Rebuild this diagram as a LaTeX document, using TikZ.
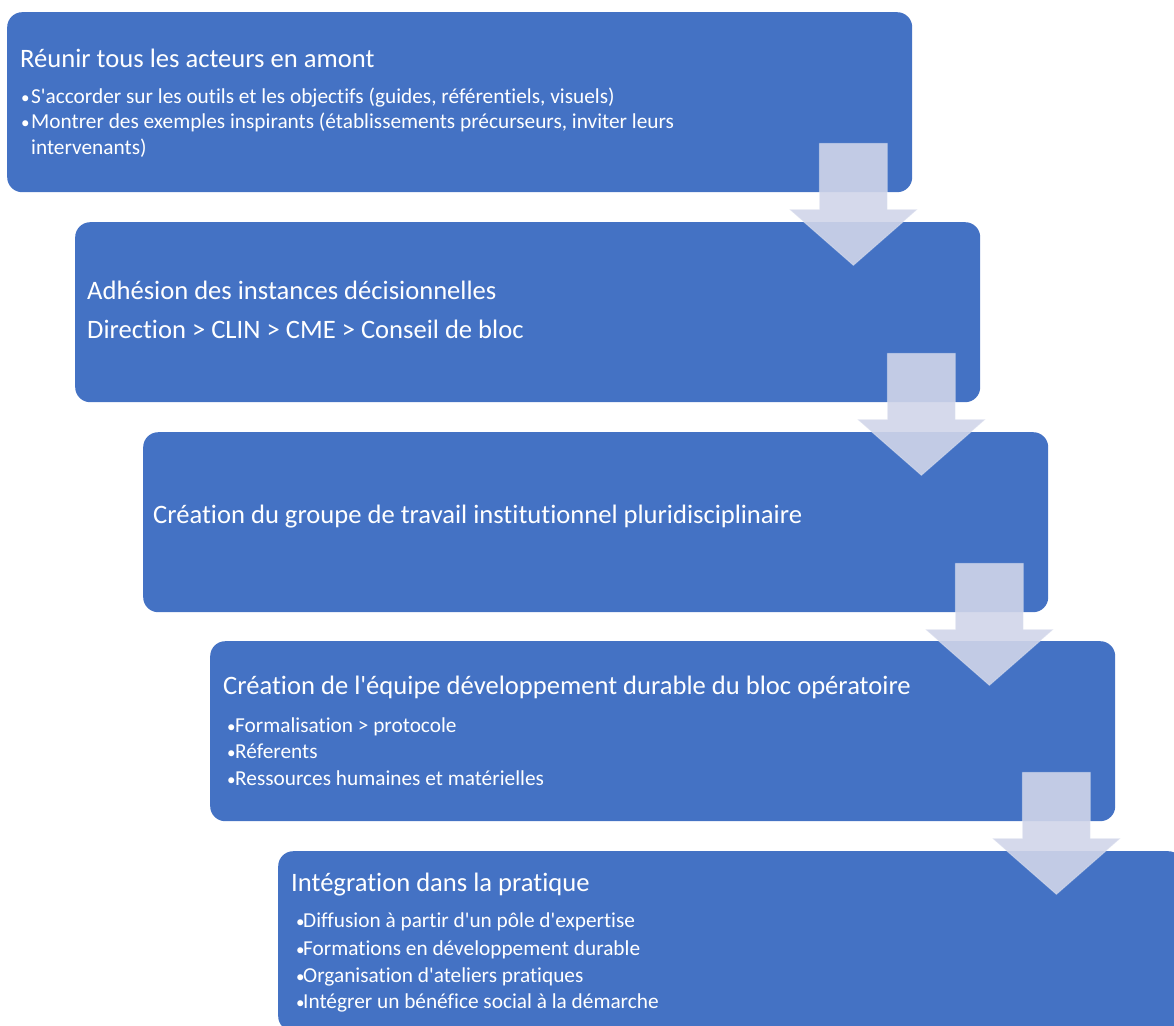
\documentclass[tikz,border=0pt]{standalone}
\usepackage{fontspec}
\newfontfamily\cf{Carlito}[RawFeature={-liga}]
\usetikzlibrary{calc}
\definecolor{boxblue}{HTML}{4472C4}
\definecolor{arrowfill}{HTML}{D0D5E9}
\tikzset{
  stepbox/.style={fill=boxblue, draw=none, rounded corners=15pt, minimum width=905pt, minimum height=180pt, anchor=north west, inner sep=0pt},
  ttl/.style={anchor=base west, inner sep=0pt, text=white, font=\cf\fontsize{26.6}{30}\selectfont},
  itm/.style={anchor=base west, inner sep=0pt, text=white, font=\cf\fontsize{21.3}{25}\selectfont},
  blt/.style={anchor=base west, inner sep=0pt, text=white, font=\cf\fontsize{17}{20}\selectfont},
  downarrow/.style={fill=arrowfill, fill opacity=0.9, draw=white, draw opacity=0.25, line width=1pt}
}
\newcommand{\downarr}[1]{%
  \path[downarrow] ($(#1.south east)+(-93,-49)$) -- ++(68,0) -- ++(0,66) -- ++(30,0) -- ++(-64,56) -- ++(-64,-56) -- ++(30,0) -- cycle;}
\begin{document}
\begin{tikzpicture}[x=1pt,y=-1pt]
\useasboundingbox (0,0) rectangle (1174,1025);
\clip (0,0) rectangle (1174,1025);
\node[stepbox] (b1) at (7,12) {};
\node[stepbox] (b2) at (75,222) {};
\node[stepbox] (b3) at (143,432) {};
\node[stepbox] (b4) at (210,641) {};
\node[stepbox] (b5) at (278,851) {};
% box 1
\node[ttl] (t1) at (20,67) {Réunir tous les acteurs en amont};
\node[blt] (d11) at (21,103) {•};
\node[itm] (i11) at (31,103) {S'accorder sur les outils et les objectifs (guides, référentiels, visuels)};
\node[blt] (d12) at (21,128) {•};
\node[itm] (i12) at (31,128) {Montrer des exemples inspirants (établissements précurseurs, inviter leurs};
\node[itm] (i13) at (31,154) {intervenants)};
% box 2
\node[ttl] (t2) at (87,299) {Adhésion des instances décisionnelles};
\node[ttl] (t2b) at (87,338) {Direction > CLIN > CME > Conseil de bloc};
% box 3
\node[ttl] (t3) at (153,523) {Création du groupe de travail institutionnel pluridisciplinaire};
% box 4
\node[ttl] (t4) at (223,694) {Création de l'équipe développement durable du bloc opératoire};
\node[blt] (d41) at (227,732) {•};
\node[itm] (i41) at (235,732) {Formalisation > protocole};
\node[blt] (d42) at (227,758) {•};
\node[itm] (i42) at (235,758) {Réferents};
\node[blt] (d43) at (227,785) {•};
\node[itm] (i43) at (235,785) {Ressources humaines et matérielles};
% box 5
\node[ttl] (t5) at (291,891) {Intégration dans la pratique};
\node[blt] (d51) at (296,927) {•};
\node[itm] (i51) at (303,927) {Diffusion à partir d'un pôle d'expertise};
\node[blt] (d52) at (296,955) {•};
\node[itm] (i52) at (303,955) {Formations en développement durable};
\node[blt] (d53) at (296,982) {•};
\node[itm] (i53) at (303,982) {Organisation d'ateliers pratiques};
\node[blt] (d54) at (296,1008) {•};
\node[itm] (i54) at (303,1008) {Intégrer un bénéfice social à la démarche};
% arrows
\downarr{b1}
\downarr{b2}
\downarr{b3}
\downarr{b4}
\end{tikzpicture}
\end{document}
